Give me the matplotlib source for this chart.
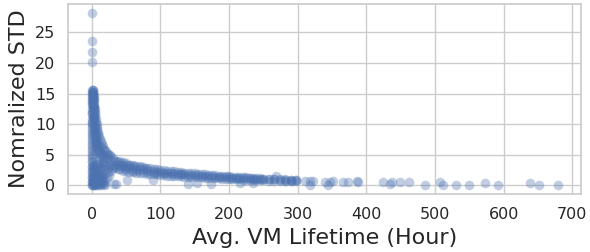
import numpy as np
import matplotlib
matplotlib.use("Agg")
import matplotlib.pyplot as plt
import seaborn as sns

# high outliers at the very start
outlier_x = [0.5, 0.3, 0.6, 0.4]
outlier_y = [28.2, 23.5, 21.8, 20.1]

# vertical spike near x=0
spike_y = [15.5, 15.2, 14.9, 14.6, 14.3, 14.0, 13.6, 13.2, 12.8, 12.4, 12.0, 11.6, 11.2, 10.8,
           10.4, 10.0, 9.6, 9.2, 8.8, 8.4, 8.0, 7.6, 7.2, 6.8, 6.4, 6.0, 5.6, 5.2, 4.8, 4.4, 4.0]
spike_left_x = [1.0, 0.5, 1.5, 0.8, 1.2, 0.6, 1.0, 0.4, 1.3, 0.7, 0.9, 0.5, 1.1, 0.6,
                0.8, 0.3, 1.0, 0.5, 0.7, 0.4, 0.9, 0.6, 0.3, 0.8, 0.5, 0.4, 0.7, 0.3, 0.6, 0.5, 0.2]
spike_mid_x = [1.5, 1.6, 1.8, 1.9, 2.0, 2.1, 2.3, 2.4, 2.6, 2.8, 3.0, 3.2, 3.4, 3.7,
               4.0, 4.3, 4.6, 5.0, 5.4, 5.8, 6.3, 6.9, 7.5, 8.2, 9.0, 10.0, 11.0, 12.5, 14.0, 16.0, 18.0]
spike_right_x = [2.0, 2.2, 2.4, 2.6, 2.8, 3.0, 3.3, 3.6, 3.9, 4.2, 4.6, 5.0, 5.4, 5.9,
                 6.4, 7.0, 7.6, 8.3, 9.0, 9.8, 10.7, 11.8, 13.0, 14.5, 16.0, 18.0, 20.5, 23.5, 27.0, 31.0, 36.0]
spike_fill_y = [15.0, 14.2, 13.4, 12.6, 11.8, 11.0, 10.2, 9.4, 8.6, 7.8, 7.0, 6.2, 5.4, 4.6,
                3.8, 3.0, 2.2, 1.4, 0.6]
spike_fill_x = [0.2, 0.8, 0.3, 1.1, 0.5, 1.6, 0.9, 2.8, 3.5, 4.5, 5.5, 6.5, 8.0, 10.0,
                1.0, 0.8, 0.6, 0.4, 0.2]

# knee of the curve, where the spike bends into the band
knee_x = [8, 12, 16, 20, 24, 28, 32, 38, 44, 50, 56, 62, 70, 78,
          10, 15, 20, 26, 32, 40, 48, 58, 68, 80, 92, 105, 118, 130,
          6, 9, 13, 18, 22, 27]
knee_y = [6.0, 5.5, 5.0, 4.7, 4.4, 4.2, 4.0, 3.8, 3.6, 3.4, 3.3, 3.2, 3.0, 2.9,
          4.0, 3.6, 3.3, 3.1, 2.9, 2.7, 2.6, 2.4, 2.3, 2.2, 2.1, 2.0, 1.9, 1.8,
          7.0, 6.5, 6.2, 5.8, 5.2, 4.9]

# dense base cluster (short-lived VMs, low STD)
base_x = [0.0, 1.0, 2.0, 3.0, 4.0, 5.0, 6.0, 8.0, 10.0, 12.0, 14.0, 16.0, 18.0, 20.0,
          0.5, 1.5, 2.5, 3.5, 5.5, 7.0, 9.0, 11.0, 13.0, 15.0, 17.0, 19.0,
          0.2, 1.2, 2.2, 4.5, 6.5, 8.5, 10.5, 12.5, 14.5, 16.5, 22.0, 25.0,
          0.8, 1.8, 3.2, 4.8, 6.8, 9.5, 12.0, 15.5, 19.5, 24.0, 28.0,
          0.3, 1.4, 2.8, 4.2, 6.2, 8.2, 11.5, 14.0, 18.0, 23.0, 30.0, 35.0,
          0.6, 2.0, 3.8, 5.8, 8.0, 11.0, 16.0, 21.0, 27.0, 33.0, 40.0, 46.0]
base_y = [0.0, 0.1, 0.0, 0.2, 0.1, 0.0, 0.2, 0.1, 0.0, 0.2, 0.1, 0.3, 0.2, 0.1,
          0.6, 0.5, 0.7, 0.6, 0.5, 0.7, 0.6, 0.5, 0.7, 0.6, 0.8, 0.7,
          1.2, 1.1, 1.3, 1.2, 1.1, 1.3, 1.2, 1.4, 1.3, 1.5, 1.2, 1.5,
          1.8, 1.9, 1.7, 1.9, 1.8, 2.0, 1.9, 2.1, 2.0, 2.2, 2.3,
          2.5, 2.6, 2.4, 2.6, 2.5, 2.7, 2.6, 2.8, 2.7, 2.8, 2.9, 3.0,
          3.2, 3.4, 3.1, 3.3, 3.5, 3.2, 3.6, 3.4, 3.5, 3.3, 3.4, 3.2]

# main decaying band
curve_x = [40, 45, 50, 55, 60, 65, 70, 75, 80, 85, 90, 95, 100, 105, 110, 115, 120, 125, 130,
           135, 140, 145, 150, 155, 160, 165, 170, 175, 180, 185, 190, 195, 200, 205, 210, 215,
           220, 225, 230, 235, 240, 245, 250, 258, 266, 274, 282, 290, 298]
curve_hi = [4.0, 3.8, 3.6, 3.4, 3.3, 3.2, 3.1, 3.0, 2.9, 2.8, 2.7, 2.6, 2.55, 2.5, 2.4, 2.35, 2.3,
            2.25, 2.2, 2.1, 2.05, 2.0, 1.95, 1.9, 1.85, 1.8, 1.75, 1.7, 1.65, 1.6, 1.55, 1.5, 1.5,
            1.45, 1.4, 1.35, 1.3, 1.3, 1.25, 1.2, 1.2, 1.15, 1.1, 1.1, 1.05, 1.0, 1.0, 0.95, 0.9]
curve_mid = [3.3, 3.1, 3.0, 2.9, 2.8, 2.7, 2.6, 2.5, 2.45, 2.4, 2.3, 2.2, 2.15, 2.1, 2.05, 2.0,
             1.95, 1.9, 1.85, 1.8, 1.75, 1.7, 1.68, 1.64, 1.6, 1.56, 1.52, 1.48, 1.45, 1.42, 1.38,
             1.35, 1.32, 1.29, 1.26, 1.23, 1.2, 1.17, 1.15, 1.12, 1.1, 1.07, 1.05, 1.02, 0.98,
             0.95, 0.92, 0.88, 0.85]
curve_lo = [2.6, 2.4, 2.3, 2.2, 2.2, 2.1, 2.0, 2.0, 1.9, 1.9, 1.8, 1.8, 1.7, 1.7, 1.6, 1.6, 1.55,
            1.5, 1.5, 1.45, 1.4, 1.4, 1.35, 1.3, 1.3, 1.25, 1.25, 1.2, 1.2, 1.15, 1.1, 1.1, 1.05,
            1.05, 1.0, 1.0, 0.95, 0.95, 0.9, 0.9, 0.88, 0.85, 0.82, 0.8, 0.78, 0.75, 0.72, 0.7, 0.7]

# scattered points below the band and the sparse tail
tail_x = [33, 36, 52, 89, 140, 154, 174, 216, 235, 269, 283, 292, 310, 318, 322, 318, 340, 347,
          351, 344, 366, 373, 386, 388, 424, 434, 437, 449, 462, 485, 507, 511, 530, 550, 573,
          592, 639, 651, 679]
tail_y = [0.3, 0.3, 0.9, 0.9, 0.3, 0.45, 0.3, 0.4, 0.4, 1.5, 0.8, 0.77, 0.75, 0.75, 0.7, 0.0,
          0.6, 0.6, 0.7, 0.1, 0.6, 0.6, 0.7, 0.6, 0.6, 0.15, 0.6, 0.6, 0.6, 0.1, 0.5, 0.0, 0.0,
          0.1, 0.4, 0.1, 0.4, 0.1, 0.1]

x = np.concatenate([outlier_x, spike_left_x, spike_mid_x, spike_right_x, spike_fill_x, knee_x,
                    base_x, curve_x, curve_x, curve_x, tail_x])
y = np.concatenate([outlier_y, spike_y, spike_y, spike_y, spike_fill_y, knee_y,
                    base_y, curve_hi, curve_mid, curve_lo, tail_y])

sns.set_theme(style="whitegrid")
fig, ax = plt.subplots(figsize=(5.9, 2.52), dpi=100)
ax.scatter(x, y, s=48, color="#4C72B0", alpha=0.35, linewidths=0)

ax.set_xlabel("Avg. VM Lifetime (Hour)", fontsize=16)
ax.set_ylabel("Nomralized STD", fontsize=16)
ax.set_yticks([0, 5, 10, 15, 20, 25])
ax.set_xticks([0, 100, 200, 300, 400, 500, 600, 700])
ax.tick_params(labelsize=11.5)

fig.subplots_adjust(left=0.116, right=0.985, bottom=0.23, top=0.984)
fig.savefig("out.png")
